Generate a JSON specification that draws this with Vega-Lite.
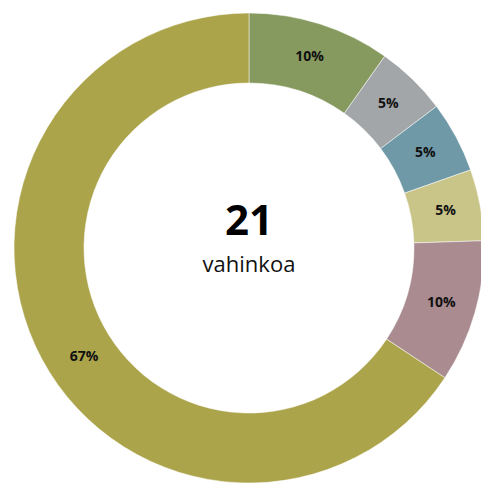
{
  "$schema": "https://vega.github.io/schema/vega-lite/v6.json",
  "width": 498,
  "height": 496,
  "padding": 0,
  "autosize": "none",
  "background": "white",
  "config": {"view": {"stroke": null}},
  "data": {
    "values": [
      {"cat": "A", "value": 10, "order": 1, "label": "10%"},
      {"cat": "B", "value": 5, "order": 2, "label": "5%"},
      {"cat": "C", "value": 5, "order": 3, "label": "5%"},
      {"cat": "D", "value": 5, "order": 4, "label": "5%"},
      {"cat": "E", "value": 10, "order": 5, "label": "10%"},
      {"cat": "F", "value": 67, "order": 6, "label": "67%"}
    ]
  },
  "layer": [
    {
      "mark": {"type": "arc", "outerRadius": 235, "innerRadius": 165, "stroke": "#ffffff", "strokeWidth": 0.5},
      "encoding": {
        "theta": {"field": "value", "type": "quantitative", "stack": true},
        "order": {"field": "order", "type": "quantitative"},
        "color": {
          "field": "cat",
          "type": "nominal",
          "scale": {"domain": ["A", "B", "C", "D", "E", "F"], "range": ["#869a60", "#a3a6a8", "#6f99a7", "#c9c589", "#a98b90", "#aca44b"]},
          "legend": null
        }
      }
    },
    {
      "mark": {"type": "text", "radius": 200, "font": "Open Sans", "fontWeight": "bold", "fontSize": 14, "color": "#111111"},
      "encoding": {
        "theta": {"field": "value", "type": "quantitative", "stack": true},
        "order": {"field": "order", "type": "quantitative"},
        "text": {"field": "label", "type": "nominal"},
        "opacity": {"condition": {"test": "datum.cat === 'F'", "value": 0}, "value": 1}
      }
    },
    {
      "mark": {"type": "text", "radius": 198, "thetaOffset": -0.0925, "font": "Open Sans", "fontWeight": "bold", "fontSize": 14, "color": "#111111"},
      "encoding": {
        "theta": {"field": "value", "type": "quantitative", "stack": true},
        "order": {"field": "order", "type": "quantitative"},
        "text": {"field": "label", "type": "nominal"},
        "opacity": {"condition": {"test": "datum.cat === 'F'", "value": 1}, "value": 0}
      }
    },
    {
      "data": {"values": [{"t": "21"}]},
      "mark": {"type": "text", "font": "Open Sans", "fontWeight": "bold", "fontSize": 42, "baseline": "alphabetic", "dy": -13, "color": "#000000"},
      "encoding": {"text": {"field": "t", "type": "nominal"}}
    },
    {
      "data": {"values": [{"t": "vahinkoa"}]},
      "mark": {"type": "text", "font": "Open Sans", "fontSize": 22, "baseline": "alphabetic", "dy": 24, "color": "#111111"},
      "encoding": {"text": {"field": "t", "type": "nominal"}}
    }
  ]
}
